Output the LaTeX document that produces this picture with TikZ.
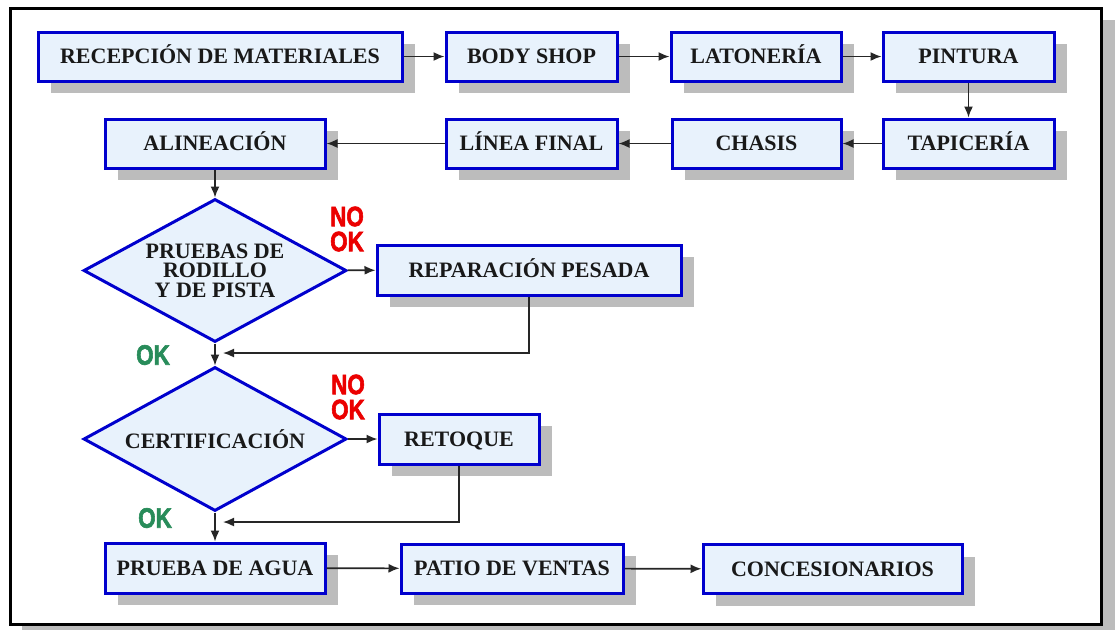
\documentclass[tikz,border=0pt]{standalone}
\usepackage{fontspec}
\setmainfont{Liberation Serif}
\newfontfamily\labfont{Liberation Sans}[BoldFeatures={FakeBold=2.5}]
\usetikzlibrary{arrows.meta,shapes.geometric,shadows}
\definecolor{boxblue}{RGB}{0,0,205}
\definecolor{boxfill}{RGB}{232,242,252}
\definecolor{shadowgray}{RGB}{188,188,188}
\definecolor{nored}{RGB}{235,0,0}
\definecolor{okgreen}{RGB}{40,140,90}
\definecolor{txt}{RGB}{25,25,25}
\begin{document}
\begin{tikzpicture}[x=0.5pt,y=-0.5pt,
  stepbox/.style={draw=boxblue, line width=1.5pt, fill=boxfill, rectangle,
    minimum height=24.5pt, inner sep=0pt, text=txt, text height=7.3pt, text depth=0pt,
    font=\fontsize{11}{10}\selectfont\bfseries,
    drop shadow={shadow xshift=6.5pt, shadow yshift=-6pt, fill=shadowgray, opacity=1}},
  decision/.style={draw=boxblue, line width=1.5pt, fill=boxfill, diamond,
    shape aspect=1.84, inner sep=0pt, text=txt, align=center,
    font=\fontsize{11}{9.8}\selectfont\bfseries},
  conn/.style={draw=black!85, line width=0.8pt, -{Latex[length=5.5pt,width=4.5pt]}},
  nolab/.style={text=nored, align=center, inner sep=0pt,
    font=\labfont\fontsize{14}{12.5}\selectfont\bfseries},
  oklab/.style={text=okgreen, inner sep=0pt,
    font=\labfont\fontsize{14}{12}\selectfont\bfseries}
]
\useasboundingbox (0,0) rectangle (1115,629);
% frame with shadow
\fill[shadowgray] (22,20) rectangle (1118,640);
\draw[line width=1.5pt, fill=white] (10.5,8) rectangle (1101,624);

% row 1
\node[stepbox, minimum width=182pt] (rec) at (220,56.5) {RECEPCIÓN DE MATERIALES};
\node[stepbox, minimum width=85.5pt] (body) at (531.5,56.5) {BODY SHOP};
\node[stepbox, minimum width=85pt] (lat) at (756,56.5) {LATONERÍA};
\node[stepbox, minimum width=85.5pt] (pin) at (968.5,56.5) {PINTURA};
% row 2
\node[stepbox, minimum width=110pt] (ali) at (215,143.5) {ALINEACIÓN};
\node[stepbox, minimum width=85.5pt] (lin) at (531.5,143.5) {LÍNEA FINAL};
\node[stepbox, minimum width=84.5pt] (cha) at (756.5,143.5) {CHASIS};
\node[stepbox, minimum width=85.5pt] (tap) at (968.5,143.5) {TAPICERÍA};
% decisions
\node[decision, minimum width=131.5pt, minimum height=71.5pt] (d1) at (215,270.5)
  {PRUEBAS DE\\RODILLO\\Y DE PISTA};
\node[stepbox, minimum width=152pt, minimum height=25pt] (rep) at (529,270) {REPARACIÓN PESADA};
\node[decision, minimum width=131.5pt, minimum height=72pt] (d2) at (215,439) {CERTIFICACIÓN};
\node[stepbox, minimum width=80pt, minimum height=25pt] (ret) at (459,439) {RETOQUE};
% bottom row
\node[stepbox, minimum width=110pt, minimum height=25pt] (pru) at (215,568) {PRUEBA DE AGUA};
\node[stepbox, minimum width=111pt] (pat) at (512,568.5) {PATIO DE VENTAS};
\node[stepbox, minimum width=129.5pt] (con) at (832.5,569) {CONCESIONARIOS};

% labels
\node[nolab] (no1) at (347,229) {\scalebox{0.8}[1]{NO}\\\scalebox{0.8}[1]{OK}};
\node[nolab] (no2) at (348,397) {\scalebox{0.8}[1]{NO}\\\scalebox{0.8}[1]{OK}};
\node[oklab] (ok1) at (153,355) {\scalebox{0.8}[1]{OK}};
\node[oklab] (ok2) at (155,518) {\scalebox{0.8}[1]{OK}};

% join points
\coordinate (j1) at (223,353);
\coordinate (j2) at (223,522);

% connectors
\draw[conn] (rec) -- (body);
\draw[conn] (body) -- (lat);
\draw[conn] (lat) -- (pin);
\draw[conn] (pin) -- (tap);
\draw[conn] (tap) -- (cha);
\draw[conn] (cha) -- (lin);
\draw[conn] (lin) -- (ali);
\draw[conn] (ali) -- (d1);
\draw[conn] (d1) -- (rep);
\draw[conn] (d1) -- (d2);
\draw[conn] (rep.south) |- (j1);
\draw[conn] (d2) -- (ret);
\draw[conn] (ret.south) |- (j2);
\draw[conn] (d2) -- (pru);
\draw[conn] (pru) -- (pat);
\draw[conn] (pat) -- (con);
\end{tikzpicture}
\end{document}
